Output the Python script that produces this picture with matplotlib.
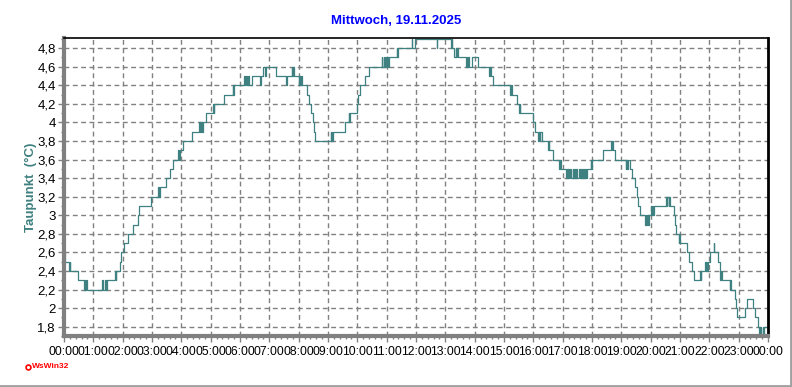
import matplotlib
matplotlib.use("Agg")
import matplotlib.pyplot as plt
from matplotlib.ticker import MultipleLocator, FuncFormatter
from matplotlib.lines import Line2D

# Taupunkt, step breakpoints (hour of day, degC)
hours = [
    0.00, 0.02, 0.18, 0.20, 0.22, 0.49, 0.69, 0.71, 0.73, 0.75, 0.77,
    1.31, 1.33, 1.41, 1.43, 1.48, 1.74, 1.76, 1.78, 1.91, 1.95,
    2.05, 2.18, 2.34, 2.53, 2.56, 2.98, 3.22, 3.24, 3.26, 3.47, 3.60, 3.72,
    3.90, 3.92, 3.94, 4.07, 4.35, 4.61, 4.63, 4.67, 4.70, 4.75, 4.83,
    5.09, 5.11, 5.13, 5.46, 5.75, 5.77, 5.81,
    6.15, 6.17, 6.22, 6.24, 6.28, 6.30, 6.40, 6.68, 6.70, 6.77, 6.85, 6.87,
    7.22, 7.58, 7.60, 7.76, 7.78, 7.80, 7.84,
    8.00, 8.02, 8.04, 8.08, 8.10, 8.27, 8.35, 8.42, 8.48, 8.52, 8.56,
    9.09, 9.11, 9.13, 9.15, 9.18, 9.58, 9.70, 9.73, 9.75, 9.98,
    10.03, 10.10, 10.26, 10.41, 10.83, 10.85, 10.90, 10.92, 10.96, 10.98,
    11.02, 11.04, 11.07, 11.34, 11.36, 11.38, 11.86, 11.88, 11.98,
    12.71, 12.73, 13.20, 13.22, 13.24, 13.31, 13.36, 13.38, 13.40, 13.43,
    13.71, 13.73, 13.75, 13.78, 13.80, 13.90,
    14.10, 14.50, 14.53, 14.55, 14.61,
    15.22, 15.24, 15.26, 15.46, 15.52, 15.54, 15.56,
    16.00, 16.04, 16.17, 16.19, 16.22, 16.24, 16.29, 16.51, 16.53, 16.55,
    16.66, 16.89, 16.91, 16.95,
    17.12, 17.14, 17.17, 17.19, 17.22, 17.26, 17.28, 17.34, 17.36, 17.40,
    17.42, 17.47, 17.49, 17.57, 17.59, 17.63, 17.65, 17.70, 17.72, 17.77,
    17.79, 17.82, 17.96, 17.98, 18.00,
    18.37, 18.65, 18.67, 18.69, 18.71, 18.80,
    19.15, 19.17, 19.20, 19.22, 19.28, 19.36, 19.45, 19.52, 19.58, 19.64,
    19.81, 19.83, 19.85, 19.88, 19.90, 19.93,
    20.02, 20.04, 20.07, 20.09, 20.12, 20.52, 20.54, 20.57, 20.62, 20.64,
    20.66, 20.78, 20.82, 20.88, 20.95, 20.97,
    21.00, 21.23, 21.32, 21.40, 21.48, 21.68, 21.70, 21.72,
    21.86, 21.88, 21.90, 21.92, 21.95,
    22.03, 22.15, 22.17, 22.28, 22.35, 22.37, 22.39, 22.42,
    22.70, 22.72, 22.74, 22.86, 22.92, 22.95,
    23.22, 23.27, 23.50, 23.57, 23.67, 23.70, 23.72, 23.75, 23.82, 23.84,
    23.87, 24.00,
]
taupunkt = [
    2.6, 2.5, 2.4, 2.5, 2.4, 2.3, 2.2, 2.3, 2.2, 2.3, 2.2,
    2.3, 2.2, 2.3, 2.2, 2.3, 2.4, 2.3, 2.4, 2.5, 2.6,
    2.7, 2.8, 2.9, 3.0, 3.1, 3.2, 3.3, 3.2, 3.3, 3.4, 3.5, 3.6,
    3.7, 3.6, 3.7, 3.8, 3.9, 4.0, 3.9, 4.0, 3.9, 4.0, 4.1,
    4.2, 4.1, 4.2, 4.3, 4.4, 4.3, 4.4,
    4.5, 4.4, 4.5, 4.4, 4.5, 4.4, 4.5, 4.4, 4.5, 4.6, 4.5, 4.6,
    4.5, 4.4, 4.5, 4.6, 4.5, 4.6, 4.5,
    4.4, 4.5, 4.4, 4.5, 4.4, 4.3, 4.2, 4.1, 4.0, 3.9, 3.8,
    3.9, 3.8, 3.9, 3.8, 3.9, 4.0, 4.1, 4.0, 4.1, 4.2,
    4.3, 4.4, 4.5, 4.6, 4.7, 4.6, 4.7, 4.6, 4.7, 4.6,
    4.7, 4.6, 4.7, 4.8, 4.7, 4.8, 4.9, 4.8, 4.9,
    4.8, 4.9, 4.8, 4.9, 4.8, 4.7, 4.8, 4.7, 4.8, 4.7,
    4.6, 4.7, 4.6, 4.7, 4.6, 4.7,
    4.6, 4.5, 4.6, 4.5, 4.4,
    4.3, 4.4, 4.3, 4.2, 4.1, 4.2, 4.1,
    4.0, 3.9, 3.8, 3.9, 3.8, 3.9, 3.8, 3.7, 3.8, 3.7,
    3.6, 3.5, 3.6, 3.5,
    3.4, 3.5, 3.4, 3.5, 3.4, 3.5, 3.4, 3.5, 3.4, 3.5,
    3.4, 3.5, 3.4, 3.5, 3.4, 3.5, 3.4, 3.5, 3.4, 3.5,
    3.4, 3.5, 3.6, 3.5, 3.6,
    3.7, 3.8, 3.7, 3.8, 3.7, 3.6,
    3.5, 3.6, 3.5, 3.6, 3.5, 3.4, 3.3, 3.2, 3.1, 3.0,
    2.9, 3.0, 2.9, 3.0, 2.9, 3.0,
    3.1, 3.0, 3.1, 3.0, 3.1, 3.2, 3.1, 3.2, 3.1, 3.2,
    3.1, 3.0, 2.9, 2.8, 2.7, 2.8,
    2.7, 2.6, 2.5, 2.4, 2.3, 2.4, 2.3, 2.4,
    2.5, 2.4, 2.5, 2.4, 2.5,
    2.6, 2.7, 2.6, 2.5, 2.4, 2.3, 2.4, 2.3,
    2.2, 2.3, 2.2, 2.1, 2.0, 1.9,
    2.0, 2.1, 2.0, 1.9, 1.8, 1.7, 1.8, 1.7, 1.8, 1.7,
    1.8, 1.8,
]
y_ticks = [1.8, 2.0, 2.2, 2.4, 2.6, 2.8, 3.0, 3.2, 3.4, 3.6, 3.8, 4.0, 4.2, 4.4, 4.6, 4.8]
title = "Mittwoch, 19.11.2025"
y_label = "Taupunkt  (°C)"

line_color = "#3f8080"
grid_color = "#808080"
axis_gray = "#808080"

plt.rcParams["font.family"] = ["Liberation Sans", "DejaVu Sans"]

fig = plt.figure(figsize=(7.92, 3.87), dpi=100)
ax = fig.add_axes([64 / 792, 1 - 336 / 387, 704 / 792, 298 / 387])

ax.plot(hours, taupunkt, drawstyle="steps-post", color=line_color, lw=0.9)

ax.set_xlim(0, 24)
ax.set_ylim(1.70, 4.91)


def de_fmt(v, pos=None):
    s = f"{v:.1f}"
    if s.endswith(".0"):
        s = s[:-2]
    return s.replace(".", ",")


ax.set_yticks(y_ticks)
ax.yaxis.set_major_formatter(FuncFormatter(de_fmt))
ax.yaxis.set_minor_locator(MultipleLocator(0.1))
ax.set_xticks(range(25))
ax.set_xticklabels([f"{h % 24:02d}:00" for h in range(25)])
ax.xaxis.set_minor_locator(MultipleLocator(0.2))

ax.tick_params(axis="both", which="major", length=4, width=1, color=axis_gray,
               labelcolor="black", direction="out")
ax.tick_params(axis="x", labelsize=8.8, pad=3)
ax.tick_params(axis="y", labelsize=9.5, pad=2)
ax.tick_params(axis="both", which="minor", length=2, width=1, color=axis_gray, direction="out")

ax.grid(True, which="major", color=grid_color, linestyle=(0, (3.5, 2.5)), lw=1)
ax.set_axisbelow(True)

ax.spines["left"].set_color(axis_gray)
ax.spines["left"].set_linewidth(3)
ax.spines["bottom"].set_color(axis_gray)
ax.spines["bottom"].set_linewidth(3)
ax.spines["top"].set_color("black")
ax.spines["top"].set_linewidth(1.2)
ax.spines["right"].set_color("black")
ax.spines["right"].set_linewidth(2)

fig.text(396 / 792, 1 - 21 / 387, title, color="#0000ff", fontsize=9.5,
         fontweight="bold", ha="center", va="center")
fig.text(31 / 792, 1 - 187 / 387, y_label, color=line_color, fontsize=9.5,
         fontweight="bold", rotation=90, ha="center", va="center")

# WsWin32 marker bottom left
fig.add_artist(Line2D([28 / 792], [1 - 367 / 387], marker="o", ms=3.5,
                      mfc="white", mec="red", mew=1.2, transform=fig.transFigure))
fig.text(32 / 792, 1 - 367 / 387, "WsWin32", color="red", fontsize=6,
         fontweight="bold", ha="left", va="center")

# window border right and bottom
fig.add_artist(Line2D([0, 1], [1.5 / 387, 1.5 / 387], color="#a0a0a0", lw=2,
                      transform=fig.transFigure))
fig.add_artist(Line2D([1 - 1.5 / 792, 1 - 1.5 / 792], [0, 1], color="#a0a0a0", lw=2,
                      transform=fig.transFigure))

fig.savefig("out.png", dpi=100)
